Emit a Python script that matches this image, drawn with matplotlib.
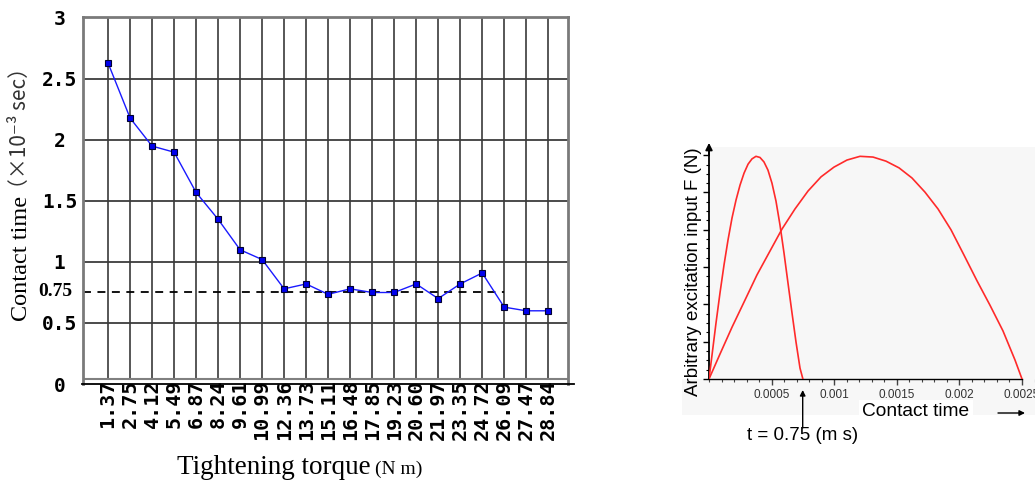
import matplotlib
matplotlib.use('Agg')
import matplotlib.pyplot as plt
from matplotlib.patches import Rectangle
from matplotlib.lines import Line2D
from matplotlib.text import Annotation
from matplotlib.ticker import MultipleLocator

W, H, DPI = 1035, 484, 100

# ---------------- data (left chart) ----------------
torque_labels = ['1.37', '2.75', '4.12', '5.49', '6.87', '8.24', '9.61', '10.99',
                 '12.36', '13.73', '15.11', '16.48', '17.85', '19.23', '20.60',
                 '21.97', '23.35', '24.72', '26.09', '27.47', '28.84']
contact_time = [2.63, 2.18, 1.95, 1.90, 1.57, 1.35, 1.10, 1.02, 0.78, 0.82, 0.735,
                0.78, 0.75, 0.75, 0.82, 0.70, 0.82, 0.91, 0.63, 0.60, 0.60]
reference_time = 0.75
reference_end_label = '26.09'
left_yticks = [0, 0.5, 1, 1.5, 2, 2.5, 3]
left_ytick_labels = ['0 ', '0.5', '1 ', '1.5', '2 ', '2.5', '3 ']

# ---------------- data (right chart) ----------------
short_t = [0, 0.000024, 0.0000559, 0.0000879, 0.000120, 0.000152, 0.000184,
           0.000216, 0.000248, 0.000280, 0.000312, 0.000343, 0.000375, 0.000407,
           0.000439, 0.000471, 0.000503, 0.000535, 0.000567, 0.000599, 0.000631,
           0.000663, 0.000695, 0.000727, 0.00075]
short_f = [0, 0.64, 1.50, 2.31, 3.06, 3.73, 4.32, 4.80, 5.20, 5.52, 5.76, 5.90,
           5.97, 5.94, 5.82, 5.60, 5.25, 4.77, 4.13, 3.38, 2.57, 1.77, 0.99, 0.29, 0]
long_t = [0, 0.0000879, 0.000184, 0.000288, 0.000383, 0.000487, 0.000583,
          0.000687, 0.000791, 0.000895, 0.000998, 0.001102, 0.001206, 0.001310,
          0.001414, 0.001518, 0.001621, 0.001725, 0.001829, 0.001933, 0.002037,
          0.002141, 0.002244, 0.002348, 0.002444, 0.0025]
long_f = [0, 0.67, 1.39, 2.12, 2.79, 3.43, 4.02, 4.56, 5.04, 5.42, 5.68, 5.87,
          5.97, 5.95, 5.84, 5.66, 5.39, 5.01, 4.56, 4.00, 3.32, 2.63, 1.98, 1.29,
          0.51, 0]
right_xticks = [0.0005, 0.001, 0.0015, 0.002, 0.0025]
right_xtick_labels = ['0.0005', '0.001', '0.0015', '0.002', '0.0025']


def fx(x):
    return x / W


def fy(y):
    return 1 - y / H


fig = plt.figure(figsize=(W / DPI, H / DPI), dpi=DPI)
fig.patch.set_facecolor('white')

MONO = ['DejaVu Sans Mono']
SANS = ['Liberation Sans', 'DejaVu Sans', 'Noto Sans CJK JP']
SERIF = ['Liberation Serif', 'DejaVu Serif']

# ================= left chart =================
ax1 = fig.add_axes([fx(83), fy(384), (568 - 83) / W, (384 - 17) / H])
n = len(torque_labels)
xs = list(range(n))
x_left, x_right = -1.14, 20.9
ax1.set_xlim(x_left, x_right)
ax1.set_ylim(0, 3.008)

for v in [0.5, 1, 1.5, 2, 2.5]:
    ax1.axhline(v, color='#1a1a1a', lw=1.1, zorder=1)
ax1.vlines(xs, 0.045, 3.008, color='#3a3a3a', lw=1.2, zorder=1)
ax1.axhline(0.045, color='#808080', lw=1.5, zorder=1)

for s in ['left', 'top', 'right']:
    ax1.spines[s].set_color('#7a7a7a')
    ax1.spines[s].set_linewidth(2)
ax1.spines['bottom'].set_visible(False)
fig.add_artist(Line2D([fx(82), fx(574)], [fy(384), fy(384)], color='black', lw=1.3))

end_idx = torque_labels.index(reference_end_label)
ax1.plot([x_left, end_idx], [reference_time, reference_time], color='black',
         lw=1.3, dashes=(4.4, 3.6), zorder=2)

ax1.plot(xs, contact_time, color='#1a1aff', lw=1.0, zorder=4)
ax1.plot(xs, contact_time, ls='none', marker='s', ms=4.6, mfc='#0000ee',
         mec='#000033', mew=0.8, zorder=5)

ax1.set_yticks(left_yticks)
ax1.set_yticklabels(left_ytick_labels, family=MONO, fontweight='bold', fontsize=14)
ax1.tick_params(axis='y', length=0, pad=4)
ax1.set_xticks(xs)
ax1.set_xticklabels(torque_labels, rotation=90, family=MONO, fontweight='bold',
                    fontsize=14.5)
ax1.tick_params(axis='x', length=0, pad=-3)

fig.text(fx(55), fy(292), '0.75', family=SERIF, fontweight='bold', fontsize=14,
         ha='center', va='center')

fig.text(fx(22), fy(258), 'Contact time', family=SERIF, fontsize=17.5,
         rotation=90, ha='center', va='center')
fig.text(fx(20), fy(128), '（×10⁻³ sec）', family=['Noto Sans CJK JP', 'DejaVu Sans'],
         fontsize=15, rotation=90, ha='center', va='center', color='#333333')

fig.text(fx(371), fy(468), 'Tightening torque', family=SERIF, fontsize=19.5,
         ha='right', va='center')
fig.text(fx(375), fy(469), '(N m)', family=SERIF, fontsize=14, ha='left',
         va='center')

# ================= right chart =================
GRAY = '#f7f7f7'
fig.add_artist(Rectangle((fx(682), fy(415)), (1035 - 682) / W, (415 - 379) / H,
                         transform=fig.transFigure, facecolor=GRAY,
                         edgecolor='none', zorder=0))
ax2 = fig.add_axes([fx(709), fy(379), (1035 - 709) / W, (379 - 147) / H])
ax2.set_facecolor(GRAY)
ax2.set_xlim(0, 0.0025 * 326 / 313)
ax2.set_ylim(0, 232 / 37.3)
for s in ['top', 'right']:
    ax2.spines[s].set_visible(False)
ax2.spines['left'].set_linewidth(1.3)
ax2.spines['bottom'].set_linewidth(1.0)
ax2.spines['bottom'].set_bounds(0, 0.0025)

ax2.plot(short_t, short_f, color='#ff2a2a', lw=1.2, zorder=3)
ax2.plot(long_t, long_f, color='#ff2a2a', lw=1.2, zorder=3)

ax2.set_yticks(range(0, 7))
ax2.set_yticklabels([])
ax2.yaxis.set_minor_locator(MultipleLocator(0.25))
ax2.tick_params(axis='y', which='major', length=4, width=1, direction='out')
ax2.tick_params(axis='y', which='minor', length=2.5, width=0.8, direction='out')

ax2.set_xticks(right_xticks)
ax2.set_xticklabels(right_xtick_labels, family=SANS, fontsize=8.5, color='#333333')
ax2.xaxis.set_minor_locator(MultipleLocator(0.0001))
ax2.tick_params(axis='x', which='major', length=4.5, width=1, direction='out', pad=2.5,
                colors='#444444', labelcolor='#333333')
ax2.tick_params(axis='x', which='minor', length=2.5, width=0.8, direction='out',
                colors='#444444')

ax2.annotate('', xy=(0, 6.33), xytext=(0, 6.0), xycoords='data',
             arrowprops=dict(arrowstyle='-|>', color='black', lw=1.3,
                             mutation_scale=10, shrinkA=0, shrinkB=0),
             annotation_clip=False)

fig.text(fx(693), fy(271.5), 'Arbitrary excitation input F (N)', family=SANS,
         fontsize=13.5, rotation=90, ha='center', va='center')
fig.text(fx(916), fy(412), 'Contact time', family=SANS, fontsize=13.8,
         ha='center', va='center',
         bbox=dict(facecolor='white', edgecolor='none', boxstyle='square,pad=0.2'))
fig.add_artist(Annotation(
    '', xy=(fx(1025), fy(413)), xytext=(fx(998), fy(413)),
    xycoords='figure fraction', textcoords='figure fraction',
    arrowprops=dict(arrowstyle='-|>', color='black', lw=1.0, mutation_scale=8,
                    shrinkA=0, shrinkB=0)))
fig.add_artist(Annotation(
    '', xy=(fx(802.7), fy(390)), xytext=(fx(802.7), fy(428)),
    xycoords='figure fraction', textcoords='figure fraction',
    arrowprops=dict(arrowstyle='-|>', color='black', lw=1.0, mutation_scale=8,
                    shrinkA=0, shrinkB=0)))
fig.text(fx(802.5), fy(436), 't = 0.75 (m s)', family=SANS, fontsize=13.5,
         ha='center', va='center')

fig.savefig('out.png', dpi=DPI)
